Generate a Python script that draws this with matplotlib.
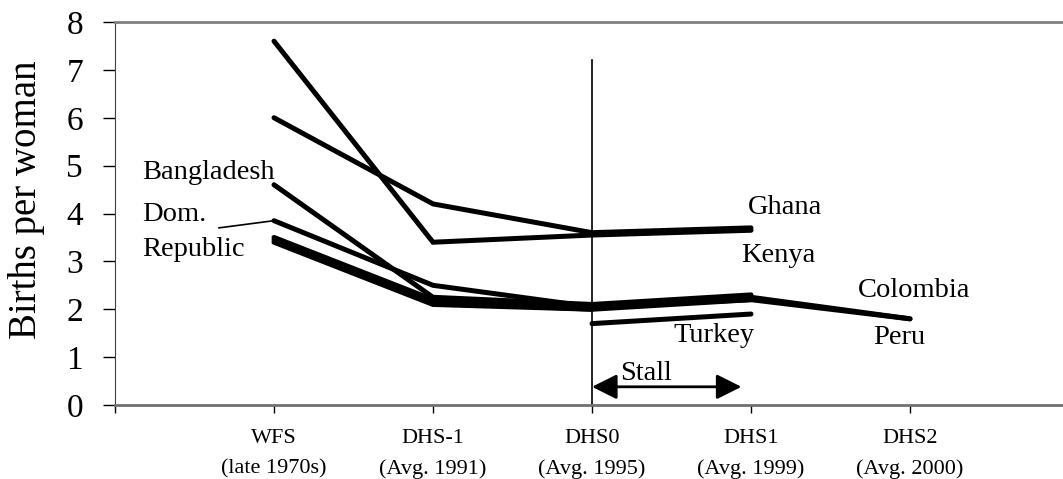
import numpy as np
import matplotlib.pyplot as plt

plt.rcParams['font.family'] = ['Liberation Serif', 'DejaVu Serif']

# survey rounds on the x axis (positions 1..5, 0 is the axis origin)
runden = ["WFS\n(late 1970s)", "DHS-1\n(Avg. 1991)", "DHS0\n(Avg. 1995)",
          "DHS1\n(Avg. 1999)", "DHS2\n(Avg. 2000)"]
x = np.arange(1, len(runden) + 1)

nan = np.nan
kenya      = [7.6, 3.4, 3.55, 3.65, nan]
ghana      = [6.0, 4.2, 3.6, 3.7, nan]
bangladesh = [4.6, 2.25, 2.1, 2.3, nan]
dom_rep    = [3.85, 2.5, 2.05, 2.2, nan]
colombia   = [3.5, 2.2, 2.05, 2.25, 1.8]
peru       = [3.45, 2.15, 2.0, 2.2, 1.8]
turkey_a   = [3.4, 2.1, 2.0, nan, nan]
turkey_b   = [nan, nan, 1.7, 1.9, nan]

serien = [kenya, ghana, bangladesh, dom_rep, colombia, peru, turkey_a, turkey_b]

fig = plt.figure(figsize=(10.63, 4.79), dpi=100)
ax = fig.add_axes([115/1063, 1 - 405/479, 1 - 115/1063, (405 - 22)/479])

for s in serien:
    ax.plot(x, s, color='black', lw=3.6, solid_capstyle='round', solid_joinstyle='miter')

# vertical line at DHS0
ax.plot([3, 3], [0, 7.2], color='black', lw=1.2)

# Stall arrow
ax.annotate("", xy=(3.0, 0.38), xytext=(3.94, 0.38),
            arrowprops=dict(arrowstyle='<|-|>', color='black', lw=2,
                            mutation_scale=38, shrinkA=0, shrinkB=0))
ax.text(3.18, 0.66, "Stall", fontsize=20.5, va='center', ha='left')

# country labels
fs = 20.5
ax.text(0.17, 4.86, "Bangladesh", fontsize=fs, va='center')
ax.text(0.17, 3.97, "Dom.", fontsize=fs, va='center')
ax.text(0.17, 3.24, "Republic", fontsize=fs, va='center')
ax.plot([0.654, 1], [3.70, dom_rep[0]], color='black', lw=1.2)
ax.text(3.98, 4.13, "Ghana", fontsize=fs, va='center')
ax.text(3.94, 3.13, "Kenya", fontsize=fs, va='center')
ax.text(4.67, 2.40, "Colombia", fontsize=fs, va='center')
ax.text(4.77, 1.40, "Peru", fontsize=fs, va='center')
ax.text(3.51, 1.46, "Turkey", fontsize=fs, va='center')

ax.set_xlim(0, (1063 - 115) / 159)
ax.set_ylim(0, 8)
ax.set_yticks(range(0, 9))
ax.tick_params(axis='y', labelsize=24, length=9, width=1, pad=14)
ax.set_xticks(range(0, 6))
ax.set_xticklabels([""] + runden, fontsize=16, linespacing=1.8)
ax.tick_params(axis='x', length=6, width=1, pad=11)
ax.set_ylabel("Births per woman", fontsize=28)
ax.yaxis.set_label_coords(-0.074, 0.535)

ax.spines['right'].set_visible(False)
ax.spines['left'].set_color('#404040')
ax.spines['top'].set_color('#808080')
ax.spines['bottom'].set_color('#707070')
ax.spines['top'].set_linewidth(2)
ax.spines['bottom'].set_linewidth(2)

plt.savefig("out.png", dpi=100)
